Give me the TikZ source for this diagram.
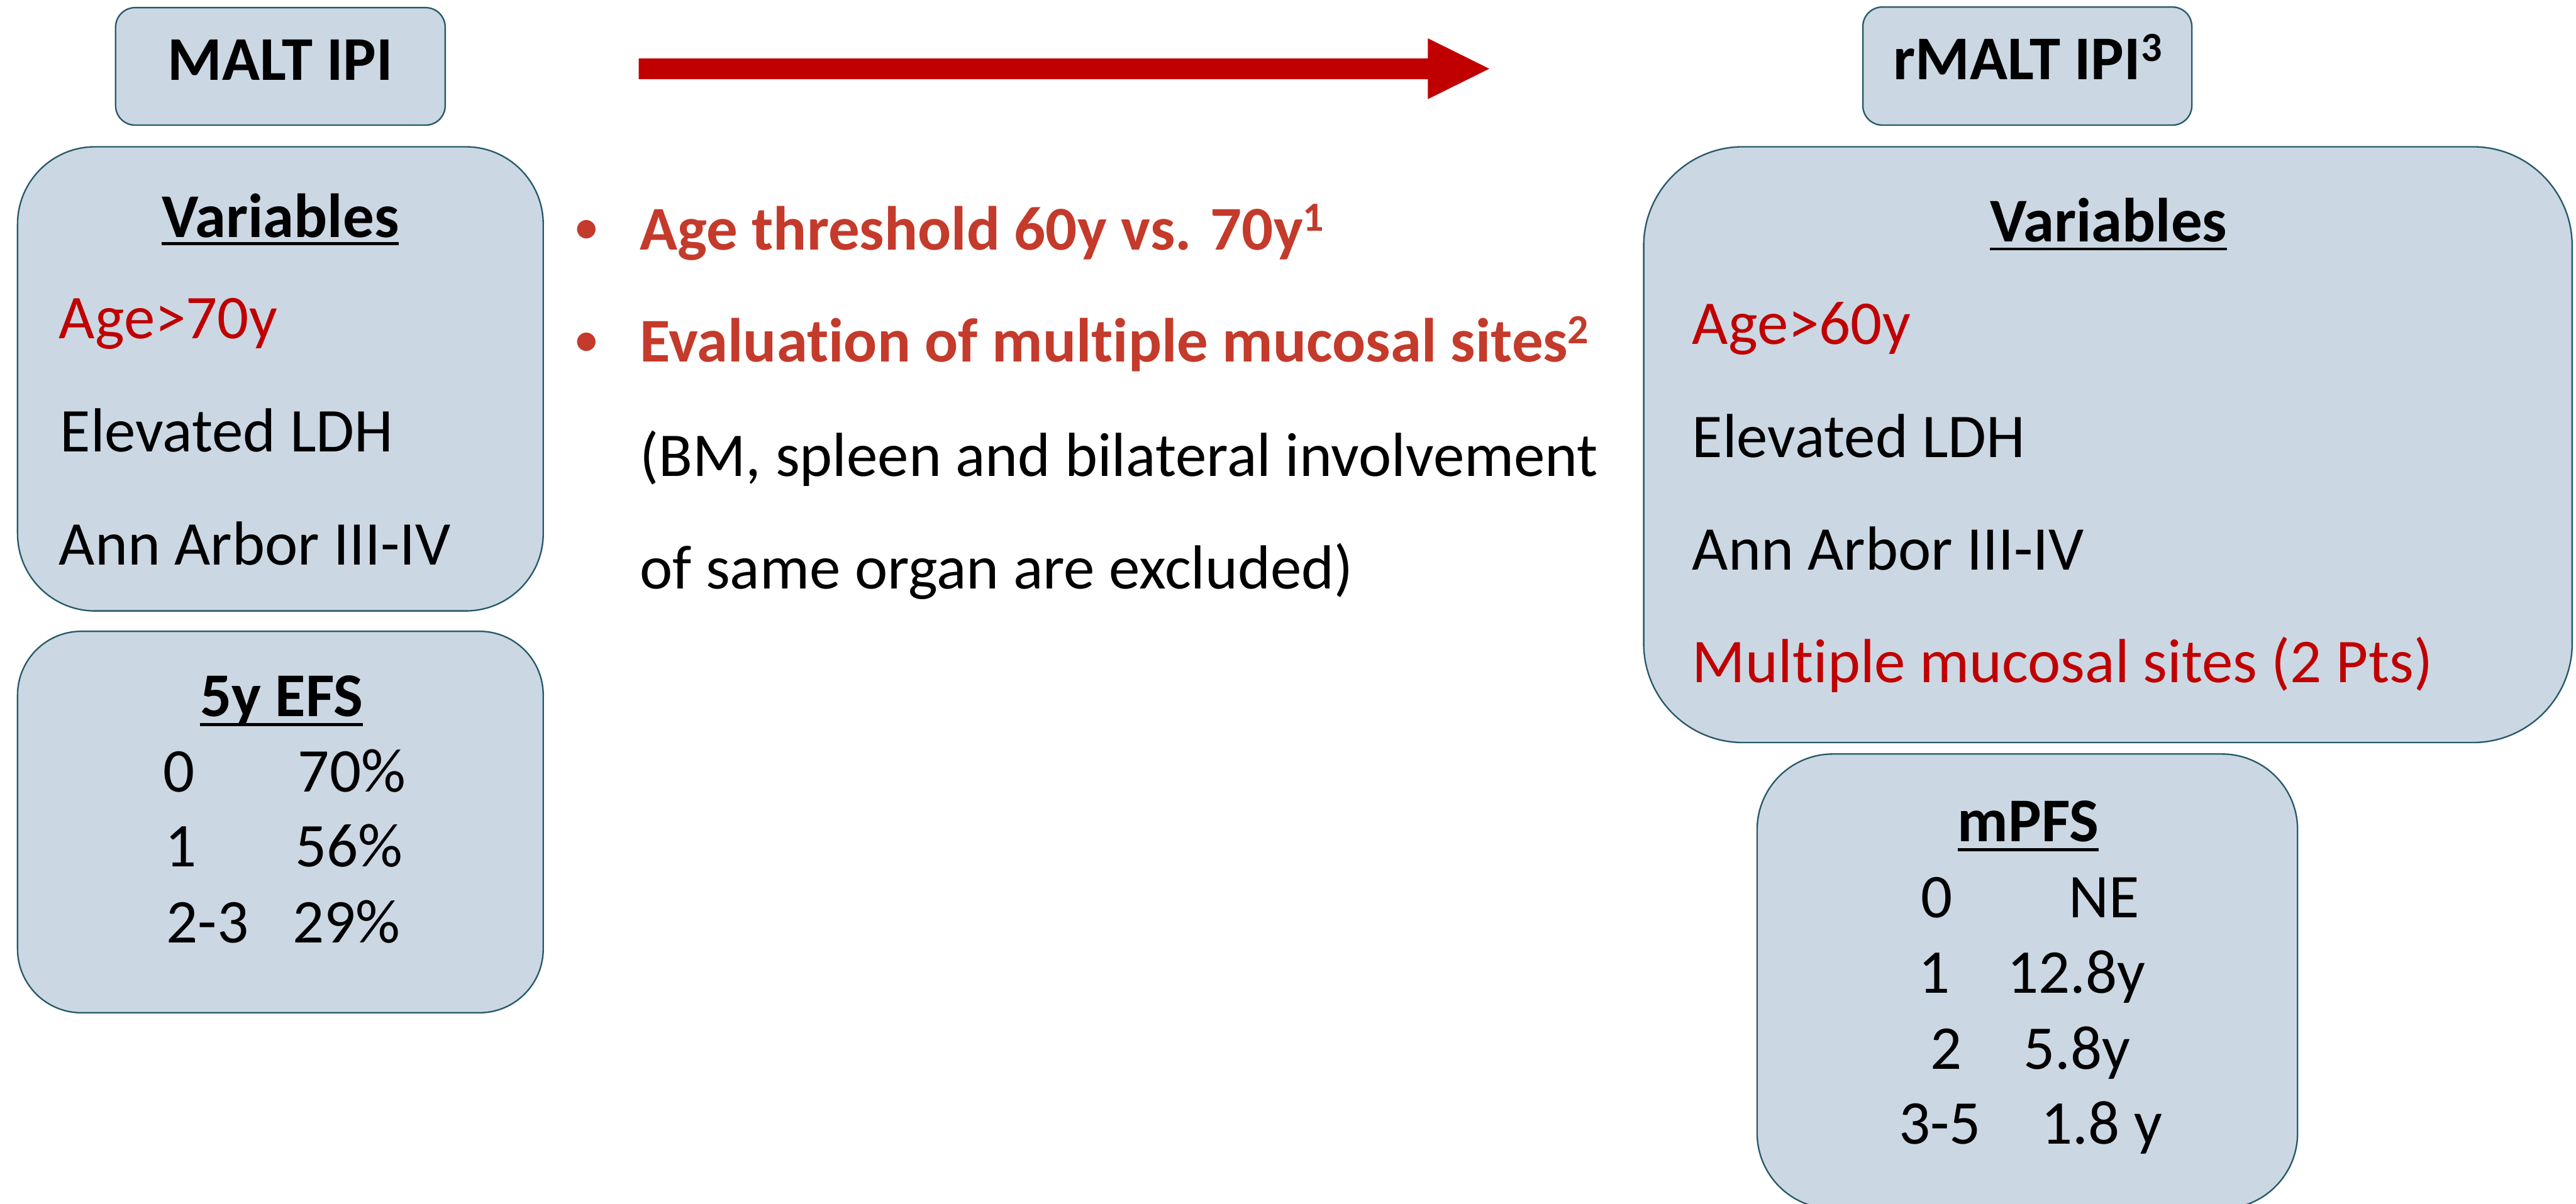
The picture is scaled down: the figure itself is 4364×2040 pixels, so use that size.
\documentclass[tikz,border=0pt]{standalone}
\usepackage{fontspec}
\setmainfont{Carlito}[Ligatures={TeX,NoCommon}]
\definecolor{boxfill}{RGB}{203,216,227}
\definecolor{boxline}{RGB}{40,90,104}
\definecolor{darkred}{RGB}{192,0,0}
\definecolor{bulred}{RGB}{196,58,43}
\tikzset{
  panel/.style={draw=boxline, fill=boxfill, line width=0.025cm, inner sep=0pt, outer sep=0pt},
  txt/.style={inner sep=0pt, outer sep=0pt, font=\fontsize{30}{36}\selectfont, anchor=base west},
  ttl/.style={inner sep=0pt, outer sep=0pt, font=\fontsize{30}{36}\selectfont\bfseries, anchor=base},
  btxt/.style={txt, font=\fontsize{30}{36}\selectfont\bfseries, text=bulred},
  bdot/.style={txt, font=\fontsize{21}{24}\selectfont\bfseries, text=bulred},
  ul/.style={line width=0.05cm},
}
\newcommand{\supx}[1]{\raisebox{0.31cm}{\fontsize{20}{24}\selectfont #1}}
\begin{document}
\begin{tikzpicture}[x=0.01cm, y=-0.01cm]
\useasboundingbox (0,0) rectangle (4364,2040);
\begin{scope}
\clip (0,0) rectangle (4364,2040);
% ---------- left column ----------
\node[panel, minimum width=5.58cm, minimum height=1.99cm, rounded corners=0.33cm] (maltbox) at (475,112.5) {};
\node[ttl] (malt) at (475,136) {MALT IPI};

\node[panel, minimum width=8.90cm, minimum height=7.86cm, rounded corners=1.31cm] (varL) at (475,642) {};
\node[ttl] (vtL) at (475,402) {Variables};
\draw[ul] ([yshift=-0.11cm]vtL.base west) -- ([yshift=-0.11cm]vtL.base east);
\node[txt, text=darkred] (ageL) at (100,574) {Age>70y};
\node[txt] (ldhL) at (102,765) {Elevated LDH};
\node[txt] (annL) at (100,957) {Ann Arbor III-IV};

\node[panel, minimum width=8.90cm, minimum height=6.46cm, rounded corners=1.08cm] (efsbox) at (475,1393) {};
\node[ttl] (efs) at (477,1214) {5y EFS};
\draw[ul] ([yshift=-0.14cm]efs.base west) -- ([yshift=-0.14cm]efs.base east);
\node[txt] (e0) at (276,1342) {0};
\node[txt] (e0v) at (505,1342) {70\%};
\node[txt] (e1) at (280,1469) {1};
\node[txt] (e1v) at (500,1469) {56\%};
\node[txt] (e2) at (282,1598) {2-3};
\node[txt] (e2v) at (496,1598) {29\%};

% ---------- middle ----------
\fill[darkred] (1082,99) -- (2419,99) -- (2419,65) -- (2523,116.5) -- (2419,168) -- (2419,134) -- (1082,134) -- cycle;
\node[bdot] (b1) at (975,410) {•};
\node[btxt] (t1) at (1084,423) {Age threshold 60y vs. 70y\supx{1}};
\node[bdot] (b2) at (975,600) {•};
\node[btxt] (t2) at (1084,613) {Evaluation of multiple mucosal sites\supx{2}};
\node[txt] (t3) at (1084,807) {(BM, spleen and bilateral involvement};
\node[txt] (t4) at (1084,998) {of same organ are excluded)};

% ---------- right column ----------
\node[panel, minimum width=5.57cm, minimum height=2.00cm, rounded corners=0.33cm] (rmaltbox) at (3434.5,112) {};
\node[ttl] (rmalt) at (3435,135) {rMALT IPI\supx{3}};

\node[panel, minimum width=15.72cm, minimum height=10.09cm, rounded corners=1.68cm] (varR) at (3571,753.5) {};
\node[ttl] (vtR) at (3572,410) {Variables};
\draw[ul] ([yshift=-0.12cm]vtR.base west) -- ([yshift=-0.12cm]vtR.base east);
\node[txt, text=darkred] (ageR) at (2867,583) {Age>60y};
\node[txt] (ldhR) at (2867,775) {Elevated LDH};
\node[txt] (annR) at (2867,966) {Ann Arbor III-IV};
\node[txt, text=darkred] (mucR) at (2867,1156) {Multiple mucosal sites (2 Pts)};

\node[panel, minimum width=9.15cm, minimum height=7.70cm, rounded corners=1.28cm] (pfsbox) at (3434.5,1663) {};
\node[ttl] (pfs) at (3436,1426) {mPFS};
\draw[ul] ([yshift=-0.14cm]pfs.base west) -- ([yshift=-0.14cm]pfs.base east);
\node[txt] (p0) at (3254,1555) {0};
\node[txt] (p0v) at (3505,1555) {NE};
\node[txt] (p1) at (3250,1683) {1};
\node[txt] (p1v) at (3400,1683) {12.8y};
\node[txt] (p2) at (3270,1812) {2};
\node[txt] (p2v) at (3428,1812) {5.8y};
\node[txt] (p3) at (3217,1939) {3-5};
\node[txt] (p3v) at (3458,1939) {1.8 y};
\end{scope}
\end{tikzpicture}
\end{document}
